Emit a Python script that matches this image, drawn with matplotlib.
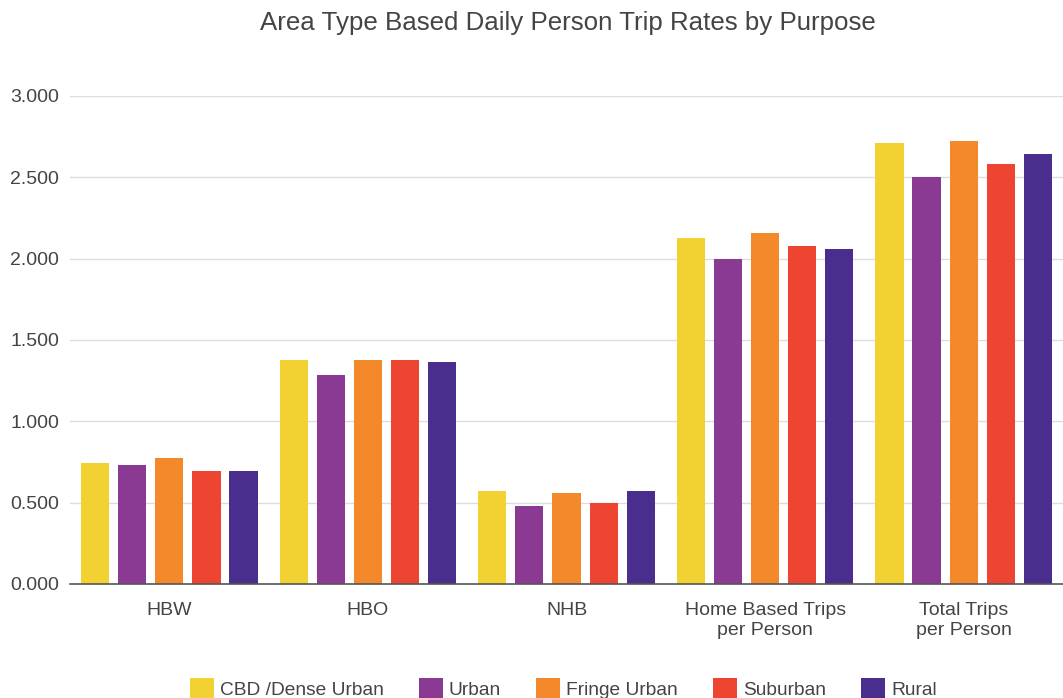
import numpy as np
from matplotlib import pyplot as plt

plt.rcParams['font.family'] = ['Liberation Sans', 'DejaVu Sans']

categories = ['HBW', 'HBO', 'NHB', 'Home Based Trips\nper Person', 'Total Trips\nper Person']
series = ['CBD /Dense Urban', 'Urban', 'Fringe Urban', 'Suburban', 'Rural']
cbd = [0.744, 1.377, 0.572, 2.127, 2.711]
urban = [0.730, 1.285, 0.480, 1.998, 2.502]
fringe = [0.775, 1.377, 0.559, 2.158, 2.723]
suburban = [0.695, 1.377, 0.498, 2.078, 2.582]
rural = [0.695, 1.365, 0.572, 2.059, 2.643]
yticks = [0, 0.5, 1.0, 1.5, 2.0, 2.5, 3.0]

colors = ['#F2D232', '#8B3A93', '#F4892C', '#EE4532', '#4A2E8E']
values = [cbd, urban, fringe, suburban, rural]

fig = plt.figure(figsize=(10.63, 6.98), dpi=100)
ax = fig.add_axes([70/1063, 1-584/698, 1-70/1063, (584-96)/698])

x = np.arange(len(categories))
pitch = 0.187
width = 0.142
for k, (name, vals) in enumerate(zip(series, values)):
    ax.bar(x + (k-2)*pitch, vals, width, color=colors[k], label=name, zorder=3)

ax.set_xlim(-0.5, len(categories)-0.5)
ax.set_ylim(0, 3.0)
ax.set_yticks(yticks)
ax.set_yticklabels(['%.3f' % v for v in yticks])
ax.set_xticks(x)
ax.set_xticklabels(categories)
ax.tick_params(axis='both', length=0, labelsize=14, colors='#444444')
ax.tick_params(axis='y', pad=8)
ax.tick_params(axis='x', pad=13)
ax.yaxis.grid(True, color='#dddddd', lw=1, zorder=0)
for s in ['top', 'right', 'left']:
    ax.spines[s].set_visible(False)
ax.spines['bottom'].set_color('#555555')
ax.spines['bottom'].set_linewidth(1.2)
ax.spines['bottom'].set_zorder(4)

fig.suptitle('Area Type Based Daily Person Trip Rates by Purpose', x=0.534, y=0.984,
             fontsize=18.6, color='#444444')

leg = fig.legend(loc='lower center', bbox_to_anchor=(0.53, -0.026), ncol=5, frameon=False,
                 fontsize=13.8, handlelength=1.25, handleheight=1.25, columnspacing=1.85,
                 handletextpad=0.3)
for t in leg.get_texts():
    t.set_color('#444444')

plt.savefig('out.png', dpi=100)
